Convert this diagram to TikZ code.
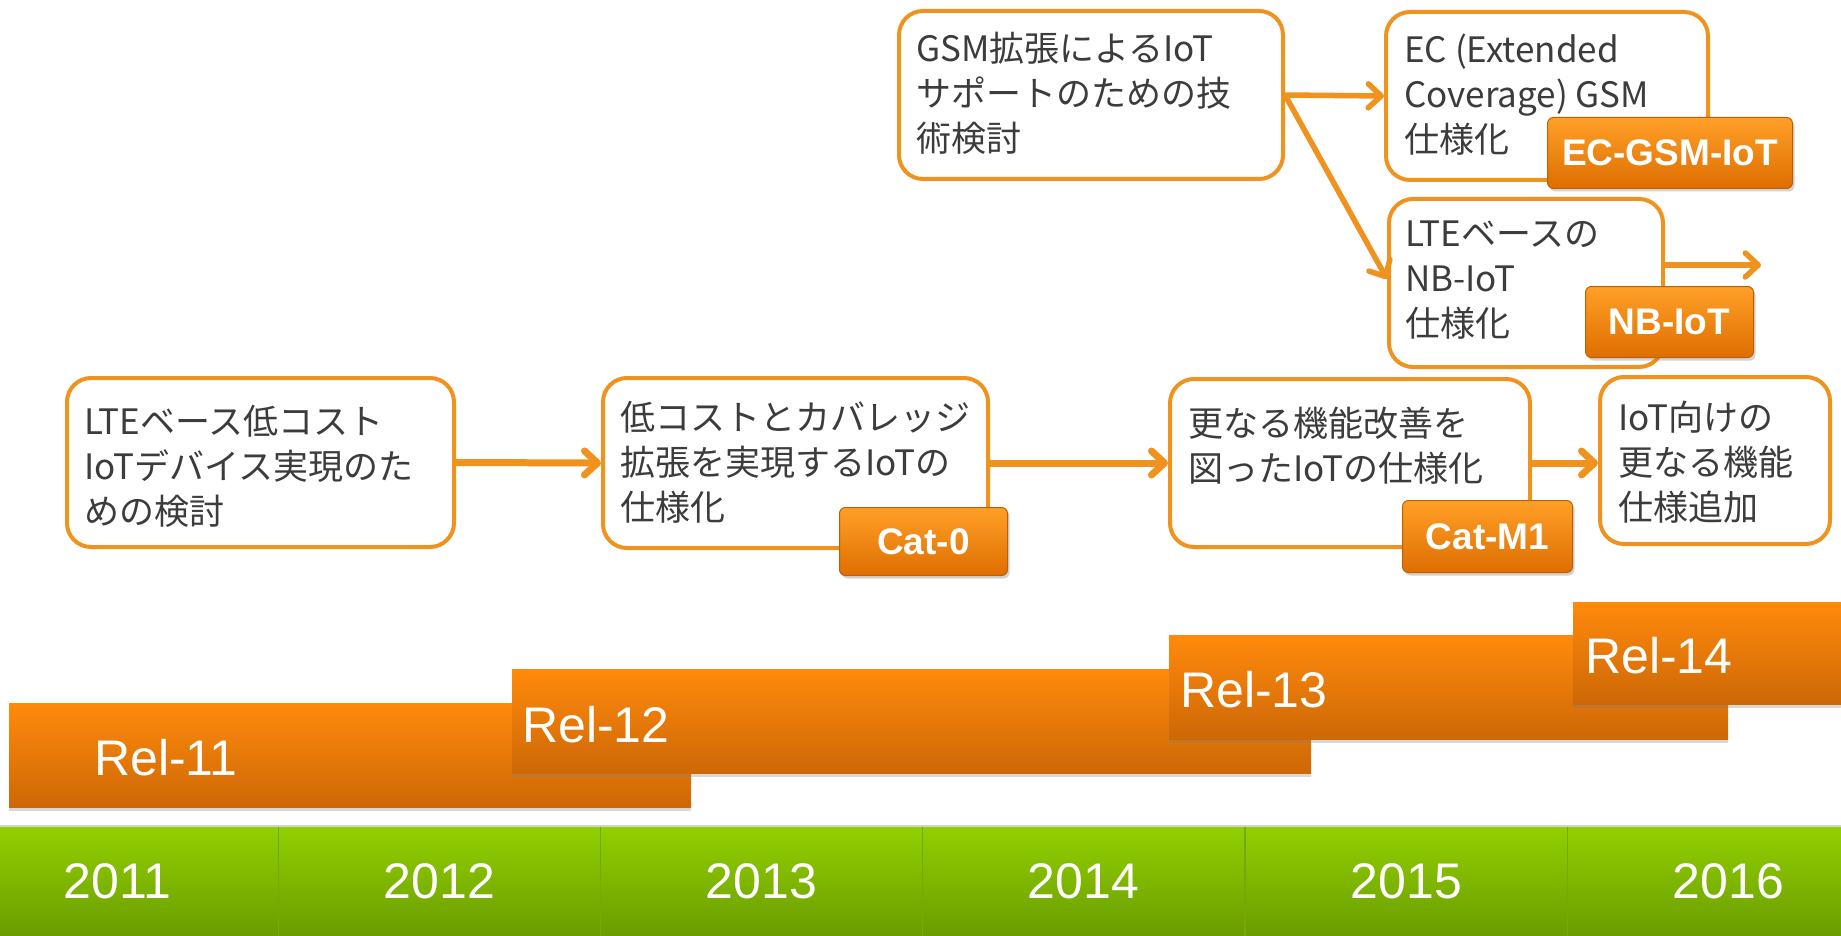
\documentclass[tikz,border=0pt]{standalone}
\usepackage{fontspec}
\setmainfont{Liberation Sans}
\newfontfamily\jpfont{Noto Sans CJK JP}
\usetikzlibrary{arrows.meta,shadows}
\definecolor{boxor}{RGB}{240,146,30}
\definecolor{txt}{RGB}{60,60,60}
\definecolor{lbltop}{RGB}{255,160,40}
\definecolor{lblbot}{RGB}{222,110,0}
\definecolor{lbledge}{RGB}{190,95,0}
\definecolor{bartop}{RGB}{255,138,12}
\definecolor{barbot}{RGB}{205,104,6}
\definecolor{grtop}{RGB}{146,208,0}
\definecolor{grbot}{RGB}{106,156,0}
\definecolor{grline}{RGB}{118,168,8}
\begin{document}
\begin{tikzpicture}[x=1pt,y=-1pt,
  jbox/.style={draw=boxor, line width=4pt, rounded corners=24pt, fill=white, inner sep=0, anchor=north west},
  jtext/.style={anchor=north west, inner sep=0, align=left, text=txt, font=\jpfont\fontsize{35}{45}\selectfont},
  arr/.style={draw=boxor, line width=7pt, -{Straight Barb[length=13pt,width=24pt,round]}},
  arrs/.style={arr, line width=5.5pt},
  lbl/.style={anchor=north west, rounded corners=6pt, top color=lbltop, bottom color=lblbot, draw=lbledge, line width=1pt, text=white, font=\bfseries\fontsize{37}{40}\selectfont, drop shadow={shadow xshift=2pt,shadow yshift=-3pt,opacity=0.35}, inner sep=0},
  bar/.style={anchor=north west, top color=bartop, bottom color=barbot, draw=none, inner sep=0, drop shadow={shadow xshift=0pt,shadow yshift=-4pt,opacity=0.3}},
  reltext/.style={anchor=base west, inner sep=0, text=white, font=\fontsize{50}{52}\selectfont},
  yearcell/.style={anchor=north west, top color=grtop, bottom color=grbot, draw=grline, line width=1pt, inner sep=0, minimum width=322pt, minimum height=110pt, text=white, font=\fontsize{50}{52}\selectfont}
]
\useasboundingbox (0,0) rectangle (1841,936);
\fill[white] (0,0) rectangle (1841,936);

% timeline
\node[yearcell] (y2011) at (-44,826) {2011};
\node[yearcell] (y2012) at (278,826) {2012};
\node[yearcell] (y2013) at (600,826) {2013};
\node[yearcell] (y2014) at (922,826) {2014};
\node[yearcell] (y2015) at (1245,826) {2015};
\node[yearcell] (y2016) at (1567,826) {2016};
\draw[gray!35, line width=2pt] (y2011.north west) -- (y2016.north east);

% release bars
\node[bar, minimum width=682pt, minimum height=104pt] (r11) at (9,703) {};
\node[reltext] (t11) at (94,775) {Rel-11};
\node[bar, minimum width=799pt, minimum height=104pt] (r12) at (512,669) {};
\node[reltext] (t12) at (522,742) {Rel-12};
\node[bar, minimum width=559pt, minimum height=104pt] (r13) at (1169,635) {};
\node[reltext] (t13) at (1180,707) {Rel-13};
\node[bar, minimum width=290pt, minimum height=102pt] (r14) at (1573,602) {};
\node[reltext] (t14) at (1585,673) {Rel-14};

% lower boxes
\node[jbox, minimum width=387pt, minimum height=169pt] (b1) at (65,376) {};
\node[jtext] (b1t) at (84,405) {LTEベース低コスト\\IoTデバイス実現のた\\めの検討};
\node[jbox, minimum width=385pt, minimum height=170pt] (b2) at (601,376) {};
\node[jtext] (b2t) at (620,401) {低コストとカバレッジ\\拡張を実現するIoTの\\仕様化};
\node[jbox, minimum width=360pt, minimum height=168pt] (b3) at (1168,377) {};
\node[jtext] (b3t) at (1188,407) {更なる機能改善を\\図ったIoTの仕様化};
\node[jbox, minimum width=230pt, minimum height=167pt] (b4) at (1598,375) {};
\node[jtext] (b4t) at (1618,401) {IoT向けの\\更なる機能\\仕様追加};

% upper boxes
\node[jbox, minimum width=384pt, minimum height=168pt] (g1) at (897,9) {};
\node[jtext] (g1t) at (916,32) {GSM拡張によるIoT\\サポートのための技\\術検討};
\node[jbox, minimum width=322pt, minimum height=168pt] (g2) at (1384,10) {};
\node[jtext] (g2t) at (1404,34) {EC (Extended\\Coverage) GSM\\仕様化};
\node[jbox, minimum width=274pt, minimum height=168pt] (g3) at (1387,197) {};
\node[jtext] (g3t) at (1405,221) {LTEベースの\\NB-IoT\\仕様化};

% arrows
\draw[arr] (b1.east) -- (b2.west);
\draw[arr] (b2.east) -- (b3.west);
\draw[arr] (b3.east) -- (b3.east -| b4.west);
\draw[arrs] (g1.east) -- (g2.west);
\draw[arrs] (g1.east) -- ([yshift=4pt]g3.west);
\coordinate (nbout) at (1761,265);
\draw[arrs] (g3.east |- nbout) -- (nbout);

% labels
\node[lbl, minimum width=168pt, minimum height=68pt] (cat0) at (839,507) {Cat-0};
\node[lbl, minimum width=170pt, minimum height=72pt] (catm1) at (1402,500) {Cat-M1};
\node[lbl, minimum width=245pt, minimum height=71pt] (ecgsm) at (1547,117) {EC-GSM-IoT};
\node[lbl, minimum width=168pt, minimum height=71pt] (nbiot) at (1585,286) {NB-IoT};
\end{tikzpicture}
\end{document}
